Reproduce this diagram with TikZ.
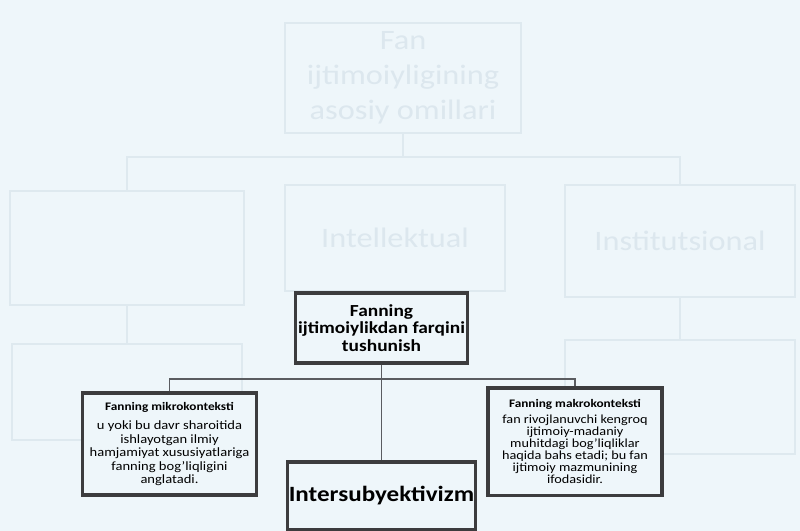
\documentclass[tikz,border=0pt]{standalone}
\usepackage{fontspec}
\setmainfont{Carlito}[FakeStretch=1.15]
\definecolor{paper}{HTML}{EEF6FA}
\definecolor{boxline}{HTML}{3C3C3E}
\definecolor{linkgray}{HTML}{5A5C60}
\definecolor{ghostline}{HTML}{DEE9EF}
\definecolor{ghosttext}{HTML}{DCE7EE}
\begin{document}
\begin{tikzpicture}[x=0.025cm,y=-0.025cm,
  ghost/.style={draw=ghostline,line width=1.6pt,text=ghosttext,align=center,
    font={\fontsize{20}{25}\selectfont}},
  ghostlink/.style={draw=ghostline,line width=1.4pt},
  box/.style={draw=boxline,line width=2.3pt,fill=paper,align=center,inner sep=1pt},
  link/.style={draw=linkgray,line width=1.4pt}]
\fill[paper] (0,0) rectangle (800,531);
\useasboundingbox (0,0) rectangle (800,531);
% faint boxes showing through the page
\node[ghost,minimum width=5.9cm,minimum height=2.75cm] (gtop) at (403,78) {Fan\\ijtimoiyligining\\asosiy omillari};
\node[ghost,minimum width=5.85cm,minimum height=2.85cm] (gleft) at (127,248) {};
\node[ghost,minimum width=5.5cm,minimum height=2.65cm] (gmid) at (395,238) {Intellektual};
\node[ghost,minimum width=5.75cm,minimum height=2.8cm] (gright) at (680,241) {Institutsional};
\node[ghost,minimum width=5.75cm,minimum height=2.4cm] (glowleft) at (127,392) {};
\node[ghost,minimum width=5.75cm,minimum height=2.85cm] (glowright) at (680,397) {};
\coordinate (gbar) at (403,157);
\draw[ghostlink] (gtop.south) -- (gbar);
\draw[ghostlink] (gleft.north) |- (gbar) -| (gright.north);
\draw[ghostlink] (gleft.south) -- (glowleft.north);
\draw[ghostlink] (gright.south) -- (glowright.north);
% main scheme
\node[box,minimum width=4.3cm,minimum height=1.75cm,font={\bfseries\fontsize{12}{12.6}\selectfont}] (top) at (381.5,328) {Fanning\\ijtimoiylikdan farqini\\tushunish};
\node[box,minimum width=4.33cm,minimum height=2.55cm,font={\fontsize{9}{9.6}\selectfont}] (micro) at (169.5,444)
  {{\bfseries\fontsize{8.2}{9}\selectfont Fanning mikrokonteksti}\\[4pt]
   u yoki bu davr sharoitida\\ishlayotgan ilmiy\\hamjamiyat xususiyatlariga\\fanning bog'liqligini\\anglatadi.};
\node[box,minimum width=4.35cm,minimum height=2.68cm,font={\fontsize{8.8}{8.4}\selectfont}] (macro) at (575,441.5)
  {{\bfseries\fontsize{8.2}{9}\selectfont Fanning makrokonteksti}\\[3pt]
   fan rivojlanuvchi kengroq\\ijtimoiy-madaniy\\muhitdagi bog'liqliklar\\haqida bahs etadi; bu fan\\ijtimoiy mazmunining\\ifodasidir.};
\node[box,minimum width=4.68cm,minimum height=1.7cm,font={\bfseries\fontsize{15.5}{17}\selectfont}] (intersub) at (381.5,496) {Intersubyektivizm};
\coordinate (bar) at (381.5,379);
\draw[link] (top.south) -- (bar);
\draw[link] (micro.north) |- (bar) -| (macro.north);
\draw[link] (bar) -- (intersub.north);
\end{tikzpicture}
\end{document}
